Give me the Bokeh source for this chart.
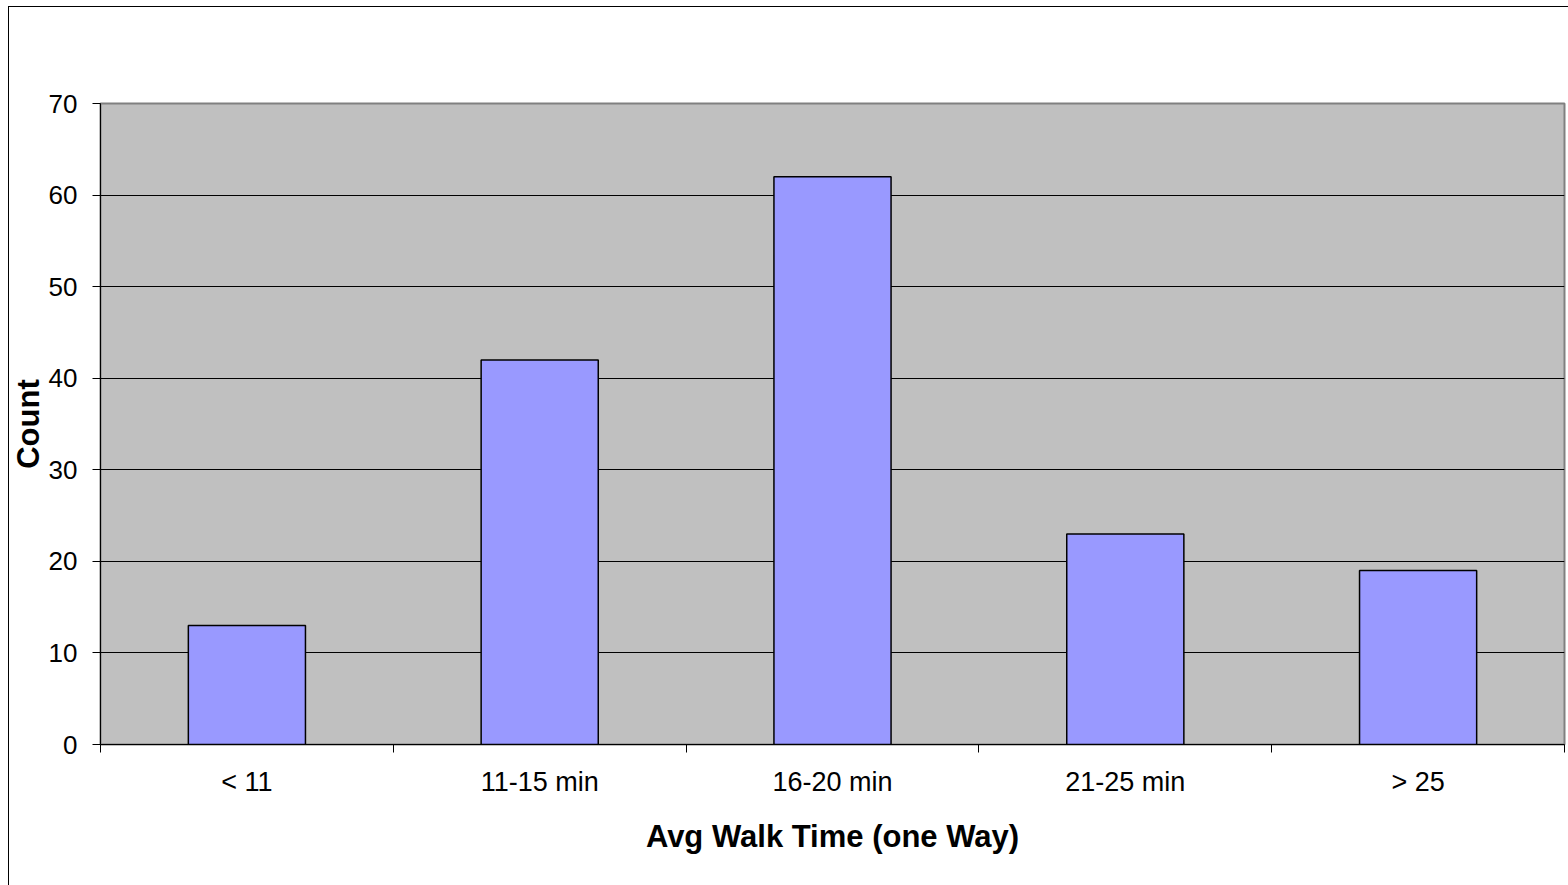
from bokeh.plotting import figure
from bokeh.models import Range1d, FixedTicker
from bokeh.embed import file_html
from bokeh.resources import INLINE

categories = ["< 11", "11-15 min", "16-20 min", "21-25 min", "> 25"]
counts = [13, 42, 62, 23, 19]
y_ticks = [0, 10, 20, 30, 40, 50, 60, 70]

FONT = "Liberation Sans"

x_pos = [i + 0.5 for i in range(len(categories))]
boundaries = list(range(len(categories) + 1))

p = figure(width=1568, height=885, output_backend="svg", toolbar_location=None,
           x_range=Range1d(0, len(categories)), y_range=Range1d(0, 70),
           min_border_left=100, min_border_top=103, min_border_right=4, min_border_bottom=141)

p.background_fill_color = "#C0C0C0"
p.border_fill_color = None
p.outline_line_color = "#808080"
p.outline_line_width = 2
p.styles = {
    "background": "linear-gradient(black, black) 8px 6px / 1px 100% no-repeat, "
                  "linear-gradient(black, black) 8px 6px / 100% 1px no-repeat, white"
}

p.vbar(x=x_pos, top=counts, width=0.4, bottom=0,
       fill_color="#9999FF", line_color="black", line_width=1.5)

# y axis
p.yaxis.ticker = FixedTicker(ticks=y_ticks)
p.yaxis.axis_line_color = "black"
p.yaxis.major_tick_line_color = "black"
p.yaxis.major_tick_in = 0
p.yaxis.major_tick_out = 8
p.yaxis.minor_tick_line_color = None
p.yaxis.major_label_text_font = FONT
p.yaxis.major_label_text_font_size = "26px"
p.yaxis.major_label_text_color = "black"
p.yaxis.major_label_standoff = 15
p.yaxis.axis_label = "Count"
p.yaxis.axis_label_text_font = FONT
p.yaxis.axis_label_text_font_size = "31px"
p.yaxis.axis_label_text_font_style = "bold"
p.yaxis.axis_label_text_color = "black"
p.yaxis.axis_label_standoff = 0

# x axis
p.xaxis.ticker = FixedTicker(ticks=x_pos, minor_ticks=boundaries)
p.xaxis.major_label_overrides = {x: c for x, c in zip(x_pos, categories)}
p.xaxis.axis_line_color = "black"
p.xaxis.major_tick_line_color = None
p.xaxis.minor_tick_line_color = "black"
p.xaxis.minor_tick_in = 0
p.xaxis.minor_tick_out = 8
p.xaxis.major_tick_out = 8
p.xaxis.major_label_text_font = FONT
p.xaxis.major_label_text_font_size = "27px"
p.xaxis.major_label_text_color = "black"
p.xaxis.major_label_standoff = 14
p.xaxis.axis_label = "Avg Walk Time (one Way)"
p.xaxis.axis_label_text_font = FONT
p.xaxis.axis_label_text_font_size = "31px"
p.xaxis.axis_label_text_font_style = "bold"
p.xaxis.axis_label_text_color = "black"
p.xaxis.axis_label_standoff = 19

p.xgrid.grid_line_color = None
p.ygrid.grid_line_color = "black"
p.ygrid.grid_line_width = 1
p.ygrid.grid_line_alpha = 1.0

open("out.html", "w").write(file_html(p, INLINE))
